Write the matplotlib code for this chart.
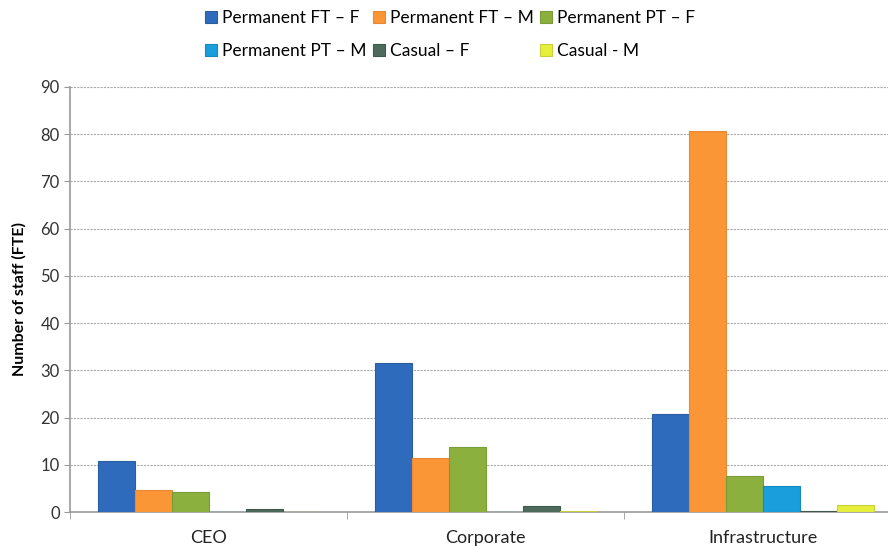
import matplotlib.pyplot as plt
import numpy as np

# staff numbers per division
categories = ["CEO", "Corporate", "Infrastructure"]
series_names = ["Permanent FT \u2013 F", "Permanent FT \u2013 M", "Permanent PT \u2013 F",
                "Permanent PT \u2013 M", "Casual \u2013 F", "Casual - M"]
perm_ft_f = [10.8, 31.5, 20.8]
perm_ft_m = [4.7, 11.4, 80.7]
perm_pt_f = [4.2, 13.7, 7.7]
perm_pt_m = [0, 0, 5.6]
casual_f = [0.6, 1.3, 0.3]
casual_m = [0, 0.3, 1.6]
yticks = list(range(0, 100, 10))

series = [perm_ft_f, perm_ft_m, perm_pt_f, perm_pt_m, casual_f, casual_m]
colors = ["#2f6bbd", "#fb9637", "#8cb03e", "#1a9fdc", "#4e6a5c", "#e6ef3c"]
edges = ["#2a5f9e", "#e88a35", "#7a9c38", "#1689bd", "#3f5a4d", "#c8cf3a"]

plt.rcParams['font.family'] = ['Lato', 'DejaVu Sans']

fig = plt.figure(figsize=(8.88, 5.46), dpi=100)
ax = fig.add_axes([0.079, 0.062, 0.936, 0.779])

x = np.arange(len(categories))
w = 0.8 / len(series)
handles = []
for i, vals in enumerate(series):
    b = ax.bar(x - 0.4 + w * (i + 0.5), vals, width=w, color=colors[i],
               edgecolor=edges[i], linewidth=0.8, label=series_names[i], zorder=3)
    handles.append(b)

ax.set_xlim(-0.5, 2.5)
ax.set_ylim(0, 90)
ax.set_yticks(yticks)
ax.tick_params(axis='y', labelsize=12, colors='#333333', length=4, color='#999999')
ax.set_xticks(x)
ax.set_xticklabels(categories, fontsize=13, color='#222222')
ax.tick_params(axis='x', which='major', length=0, pad=13)
ax.set_xticks([-0.5, 0.5, 1.5, 2.5], minor=True)
ax.tick_params(axis='x', which='minor', length=5, color='#999999')

ax.grid(axis='y', linestyle=(0, (2, 1)), color='#aaaaaa', linewidth=0.8, zorder=0)
for s in ['top', 'right']:
    ax.spines[s].set_visible(False)
for s in ['left', 'bottom']:
    ax.spines[s].set_color('#999999')
    ax.spines[s].set_linewidth(1.2)

ax.set_ylabel("Number of staff (FTE)", fontsize=11.5, fontweight='bold', labelpad=10)

order = [0, 3, 1, 4, 2, 5]
fig.legend([handles[i] for i in order], [series_names[i] for i in order],
           ncol=3, loc='upper left', bbox_to_anchor=(0.213, 1.01), frameon=False,
           fontsize=12.5, handlelength=0.7, handleheight=0.7, handletextpad=0.3,
           columnspacing=0.35, labelspacing=0.95)

fig.savefig("out.png", dpi=100)
